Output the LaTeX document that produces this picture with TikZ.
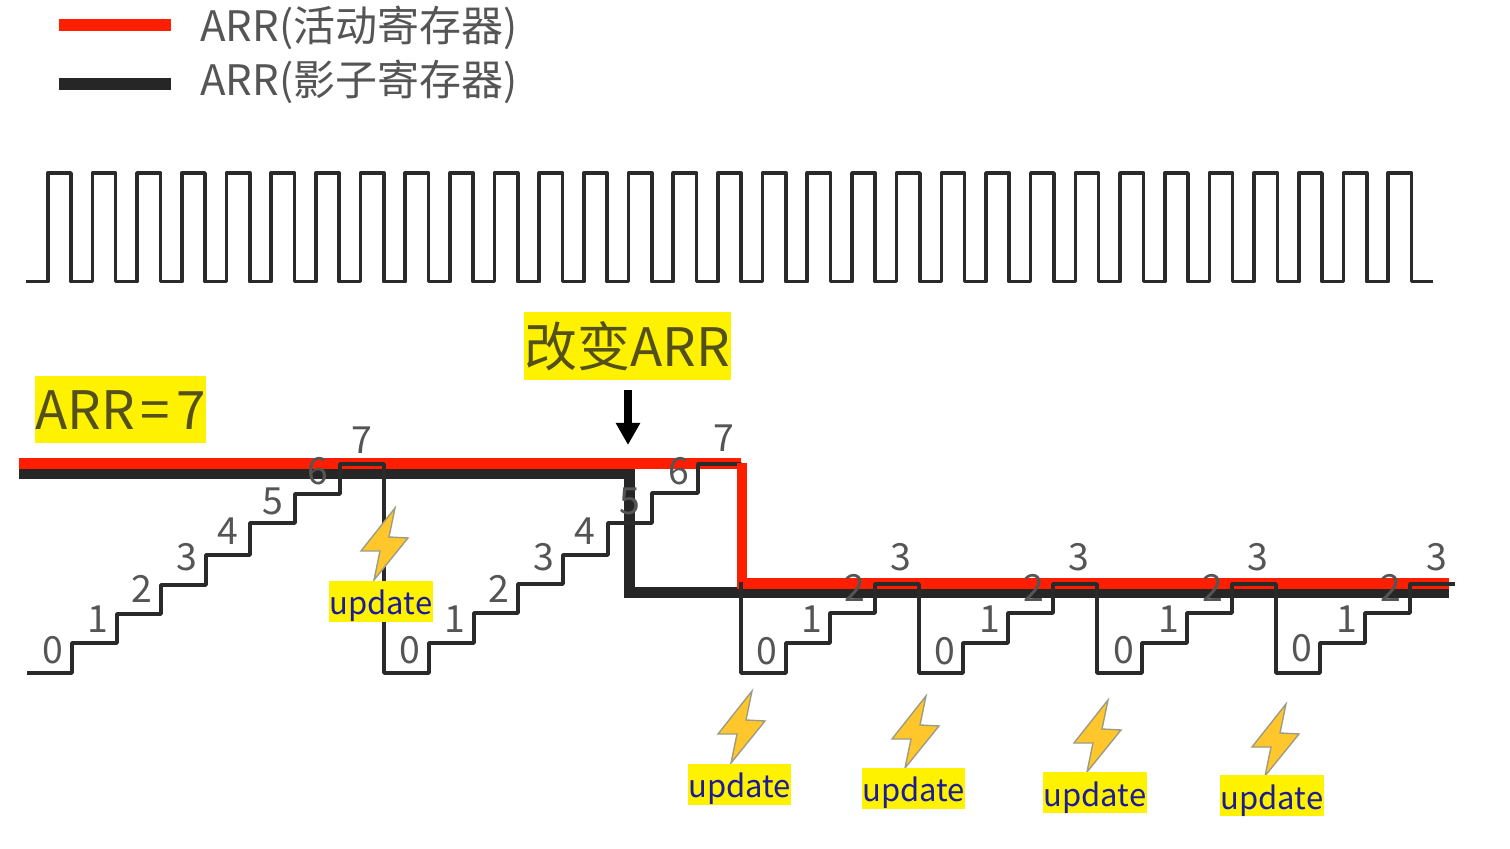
\documentclass[tikz,border=0pt]{standalone}
\usepackage{fontspec}
\setmainfont{Noto Sans CJK SC}
\usetikzlibrary{arrows.meta}
\definecolor{ink}{HTML}{2A2A2A}
\definecolor{redline}{HTML}{FF1E00}
\definecolor{blackline}{HTML}{262626}
\definecolor{marker}{HTML}{FFF200}
\definecolor{graytext}{HTML}{555555}
\definecolor{markedtext}{HTML}{54501C}
\definecolor{updatetext}{HTML}{1C1C96}
\definecolor{boltfill}{HTML}{FFC72C}
\definecolor{boltedge}{HTML}{9C9C84}
\tikzset{
  thin wave/.style={draw=ink,line width=1.8pt,line join=round},
  bar/.style={line width=5.5pt,line join=miter},
  legendtext/.style={anchor=base west,inner sep=0pt,text=graytext,font=\fontsize{21}{21}\selectfont},
  bigmark/.style={fill=marker,inner sep=0pt,text=markedtext,font=\fontsize{26.5}{26.5}\selectfont},
  updatebox/.style={fill=marker,inner sep=0pt,text width=51.7pt,align=center,text height=17pt,text depth=3.5pt,text=updatetext,font=\fontsize{15.5}{15.5}\selectfont},
  cnt/.style={inner sep=0pt,xshift=0.4pt,yshift=-0.3pt,text=graytext,font=\fontsize{18.7}{18.7}\selectfont},
  boltshape/.style={fill=boltfill,draw=boltedge,line width=0.7pt,line join=miter},
}
\newcommand{\drawbolt}[2]{%
  \draw[boltshape] (#1,#2) -- ++(-6,29) -- ++(19,1) -- ++(-34,42) -- ++(6,-29) -- ++(-19,0) -- cycle;}
\begin{document}
\begin{tikzpicture}[x=0.5pt,y=-0.5pt]
\useasboundingbox (0,0) rectangle (1510,849);
\fill[white] (0,0) rectangle (1510,849);
% legend
\coordinate (lr1) at (59,25); \coordinate (lr2) at (171,25);
\coordinate (lb1) at (59,84); \coordinate (lb2) at (171,84);
\draw[redline,line width=6pt] (lr1) -- (lr2);
\draw[blackline,line width=6pt] (lb1) -- (lb2);
\node[legendtext] (la) at (200,42) {ARR(活动寄存器)};
\node[legendtext] (lb) at (200,96) {ARR(影子寄存器)};
% clock
\draw[thin wave] (26,281.7)
  \foreach \i in {0,...,30} { -- ({47.7+44.68*\i},281.7) -- ++(0,-108.7) -- ++(23.3,0) -- ++(0,108.7) }
  -- (1433,281.7);
% registers
\draw[blackline,bar] (19,473.5) -- (629.5,473.5) -- (629.5,593) -- (1449,593);
\draw[redline,bar] (19,463.5) -- (741,463.5);
\draw[redline,bar] (737,584) -- (1449,584);
% counter
\draw[thin wave] (27,673) -- (72,673) |- (117,643) |- (161,614) |- (206,585) |- (250,555) |- (295,523) |- (340,494) |- (384,464) -- (384,673)
  -- (429,673) |- (474,643) |- (518,613) |- (563,584) |- (608,555) |- (652,523) |- (698,493) |- (741,464) -- (741,673)
  -- (786,673) |- (830,643) |- (875,613) |- (919,584) -- (919,673)
  -- (963,673) |- (1008,643) |- (1053,613) |- (1097,584) -- (1097,673)
  -- (1142,673) |- (1187,643) |- (1232,613) |- (1276,584) -- (1276,673)
  -- (1320,673) |- (1365,643) |- (1410,613) |- (1455,584);
\draw[redline,line width=4.6pt] (742,463) -- (742,582);
% counts
\foreach \v/\x/\y [count=\n] in {0/52/650,1/97/619,2/141/588,3/186/557,4/227/531,5/272/501,6/317/471,7/361/440,
  0/409/650,1/454/619,2/498/588,3/543/557,4/584/531,5/629/501,6/678/471,7/723/438,
  0/766/651,1/811/619,2/854/587,3/900/557,
  0/944/651,1/989/619,2/1033/587,3/1078/557,
  0/1123/650,1/1168/619,2/1212/587,3/1257/557,
  0/1301/648,1/1346/619,2/1390/587,3/1436/557}
  \node[cnt] (c\n) at (\x,\y) {\v};
% markers
\node[bigmark,text width=85.5pt,align=center,text height=27pt,text depth=6.5pt] (arr) at (120.5,409.5) {ARR\kern3pt=\kern3pt7};
\node[bigmark,text width=103.5pt,align=center,text height=27.5pt,text depth=6.5pt] (chg) at (627.5,346) {改变ARR};
\coordinate (ar1) at (628,390); \coordinate (ar2) at (628,445);
\draw[black,line width=4pt,-{Triangle[length=11pt,width=11.5pt]}] (ar1) -- (ar2);
% bolts and update labels
\drawbolt{395}{508}
\drawbolt{752}{691}
\drawbolt{926}{696}
\drawbolt{1108}{700}
\drawbolt{1286}{704}
\node[updatebox] (u1) at (381,601.5) {update};
\node[updatebox] (u2) at (739.5,784) {update};
\node[updatebox] (u3) at (913.5,788) {update};
\node[updatebox] (u4) at (1095,792.5) {update};
\node[updatebox] (u5) at (1272,795.5) {update};
\end{tikzpicture}
\end{document}
